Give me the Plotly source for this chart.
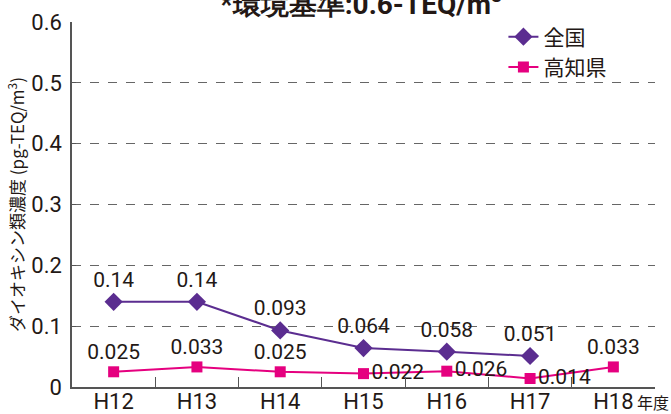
import plotly.graph_objects as go

years = ["H12", "H13", "H14", "H15", "H16", "H17", "H18"]
zenkoku = [0.14, 0.14, 0.093, 0.064, 0.058, 0.051]
kochi = [0.025, 0.033, 0.025, 0.022, 0.026, 0.014, 0.033]
zenkoku_labels = ["0.14", "0.14", "0.093", "0.064", "0.058", "0.051"]
kochi_labels = ["0.025", "0.033", "0.025", "0.022", "0.026", "0.014", "0.033"]
kochi_pos = ["top center", "top center", "top center", "middle right", "middle right", "middle right", "top center"]

FONT = "Roboto, Arial"
JP = "Noto Sans CJK JP"
PURPLE = "#5B2D90"
MAGENTA = "#E5007F"
TXT = "#231815"

fig = go.Figure()
fig.add_trace(go.Scatter(
    x=years[:len(zenkoku)], y=zenkoku, name="全国", mode="lines+markers+text",
    line=dict(color=PURPLE, width=2),
    marker=dict(symbol="diamond", size=14, color=PURPLE),
    text=zenkoku_labels, textposition="top center",
    textfont=dict(size=21, color=TXT, family=FONT),
    cliponaxis=False,
))
fig.add_trace(go.Scatter(
    x=years, y=kochi, name="高知県", mode="lines+markers+text",
    line=dict(color=MAGENTA, width=2),
    marker=dict(symbol="square", size=11, color=MAGENTA),
    text=kochi_labels, textposition=kochi_pos,
    textfont=dict(size=21, color=TXT, family=FONT),
    cliponaxis=False,
))

fig.update_layout(
    width=671, height=414,
    margin=dict(l=72, r=16, t=22, b=27),
    paper_bgcolor="white", plot_bgcolor="white",
    font=dict(family=FONT, color=TXT),
    showlegend=True,
    legend=dict(x=0.74, y=1.015, xanchor="left", yanchor="top",
                font=dict(size=21, family=JP, color=TXT),
                bgcolor="rgba(0,0,0,0)", tracegroupgap=0),
    xaxis=dict(
        type="category", categoryorder="array", categoryarray=years,
        range=[-0.5, 6.5], automargin=False,
        showline=True, linecolor="#555555", linewidth=1.5,
        ticks="inside", ticklen=10, tickcolor="#555555", tickson="boundaries",
        tickfont=dict(size=22, family=FONT), showgrid=False,
        ticklabelstandoff=-6,
    ),
    yaxis=dict(
        range=[0, 0.6], automargin=False,
        tickvals=[0, 0.1, 0.2, 0.3, 0.4, 0.5, 0.6],
        ticktext=["0", "0.1", "0.2", "0.3", "0.4", "0.5", "0.6"],
        showline=True, linecolor="#555555", linewidth=1.5,
        ticks="inside", ticklen=4, tickcolor="#555555",
        tickfont=dict(size=22, family=FONT),
        ticklabelstandoff=4,
        showgrid=True, gridcolor="#666666", griddash="dash", gridwidth=1,
        zeroline=False,
        title=dict(text="ダイオキシン類濃度 (pg-TEQ/m<sup>3</sup>)",
                   font=dict(size=17, family=JP), standoff=2),
    ),
    annotations=[
        dict(text="<b>*環境基準:0.6-TEQ/m<sup>3</sup></b>", xref="paper", yref="paper",
             x=0.496, y=1.0, yshift=40, xanchor="center", yanchor="top", showarrow=False,
             font=dict(size=28, family=FONT, color=TXT)),
        dict(text="年度", xref="paper", yref="paper", x=1.0, y=0, xshift=16, yshift=-15,
             xanchor="right", yanchor="middle", showarrow=False,
             font=dict(size=16, family=JP, color=TXT)),
    ],
)

fig.write_html("out.html", config={"displayModeBar": False},
               post_script="document.body.style.margin='0';document.body.style.overflow='hidden';")
